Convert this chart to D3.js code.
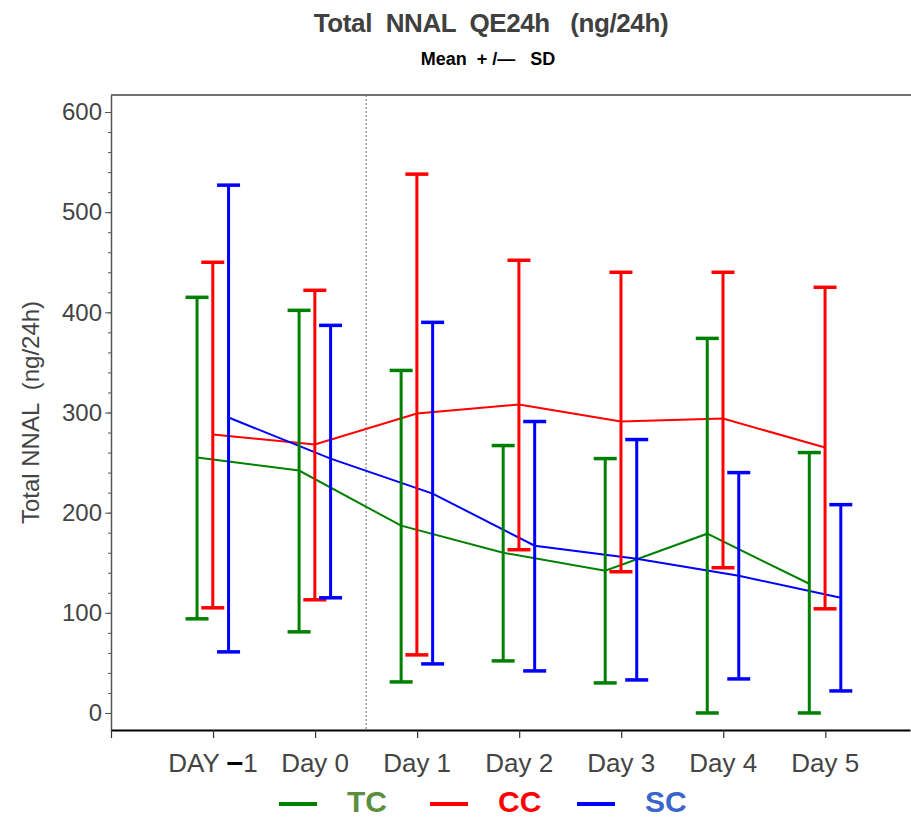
<!DOCTYPE html>
<html>
<head>
<meta charset="utf-8">
<script src="https://cdn.jsdelivr.net/npm/d3@7"></script>
<style>
  html, body { margin: 0; padding: 0; background: #fff; }
  svg { display: block; font-family: "Liberation Sans", Arial, sans-serif; }
  text { white-space: pre; }
</style>
</head>
<body>
<div id="chart"></div>
<script>
// Study days on the x axis
const categories = ["DAY -1", "Day 0", "Day 1", "Day 2", "Day 3", "Day 4", "Day 5"];
const groups = ["TC", "CC", "SC"];

// Mean, mean + SD and mean - SD (clipped at 0) per group, ng/24h
const tcMean  = [255, 242, 187, 160, 142, 179, 129];
const tcUpper = [415, 402, 342, 267, 254, 374, 260];
const tcLower = [94, 81, 31, 52, 30, 0, 0];

const ccMean  = [278, 268, 299, 308, 291, 294, 265];
const ccUpper = [450, 422, 538, 452, 440, 440, 425];
const ccLower = [105, 113, 58, 163, 141, 145, 104];

const scMean  = [295, 254, 219, 167, 154, 137, 115];
const scUpper = [527, 387, 390, 291, 273, 240, 208];
const scLower = [61, 115, 49, 42, 33, 34, 22];

const yTicks = [0, 100, 200, 300, 400, 500, 600];

const seriesColors = { TC: "#008000", CC: "#ff0000", SC: "#0000ff" };
const legendTextColors = { TC: "#5a8f3e", CC: "#ff0000", SC: "#3a66cc" };

const series = [
  { key: "TC", mean: tcMean, upper: tcUpper, lower: tcLower },
  { key: "CC", mean: ccMean, upper: ccUpper, lower: ccLower },
  { key: "SC", mean: scMean, upper: scUpper, lower: scLower }
];

const W = 911, H = 819;
const svg = d3.select("#chart").append("svg")
  .attr("width", W).attr("height", H);

// Scales: day index along x, concentration along y
const x = d3.scaleLinear().domain([-1, 6.83]).range([111, 910]);
const y = d3.scaleLinear().domain([-17, 617]).range([730, 95]);
const groupOffset = d3.scalePoint().domain(groups).range([-16, 15.5]);
const px = (key, i) => x(i) + groupOffset(key);

// Frame: top border line
svg.append("line")
  .attr("x1", x(-1)).attr("x2", W).attr("y1", y(617)).attr("y2", y(617))
  .attr("stroke", "#707070").attr("stroke-width", 2);

// Dotted separator between the baseline days and the study days
svg.append("line")
  .attr("x1", x(1.5)).attr("x2", x(1.5))
  .attr("y1", y(617)).attr("y2", y(-17))
  .attr("stroke", "#666").attr("stroke-width", 1)
  .attr("stroke-dasharray", "2,2");

// Y axis with minor ticks
const yMinor = svg.append("g")
  .attr("transform", `translate(${x(-1)},0)`)
  .call(d3.axisLeft(y).tickValues(d3.range(0, 601, 20)).tickSize(3).tickFormat(""));
yMinor.select(".domain").remove();
yMinor.selectAll("line").attr("stroke", "#555");

const yAxis = svg.append("g")
  .attr("transform", `translate(${x(-1)},0)`)
  .call(d3.axisLeft(y).tickValues(yTicks).tickSize(6).tickPadding(3).tickSizeOuter(0));
yAxis.select(".domain").attr("stroke", "#555").attr("stroke-width", 1.5);
yAxis.selectAll("line").attr("stroke", "#555");
yAxis.selectAll("text")
  .attr("font-size", 24).attr("fill", "#444")
  .attr("font-family", "'Liberation Sans', Arial, sans-serif");

// X axis
const xAxis = svg.append("g")
  .attr("transform", `translate(0,${y(-17)})`)
  .call(d3.axisBottom(x).tickValues(d3.range(-1, 7)).tickSize(8).tickFormat("").tickSizeOuter(0));
xAxis.select(".domain").attr("stroke", "#000").attr("stroke-width", 2);
xAxis.selectAll("line").attr("stroke", "#333").attr("stroke-width", 1.2);

// X labels; the minus sign in "DAY -1" is drawn as a heavy dash
const xl = svg.append("g").selectAll("text")
  .data(categories)
  .join("text")
  .attr("x", (d, i) => x(i))
  .attr("y", 772)
  .attr("text-anchor", "middle")
  .attr("font-size", 26)
  .attr("fill", "#444");
xl.each(function (d) {
  const t = d3.select(this);
  const parts = d.split("-");
  if (parts.length === 2) {
    t.append("tspan").text(parts[0]);
    t.append("tspan").text("\u2013").attr("font-weight", "bold").attr("fill", "#000").attr("font-size", 30);
    t.append("tspan").text(parts[1]);
  } else {
    t.text(d);
  }
});

// Y axis title
svg.append("text")
  .attr("transform", `translate(39,${(y(0) + y(600)) / 2}) rotate(-90)`)
  .attr("text-anchor", "middle")
  .attr("font-size", 24)
  .attr("fill", "#444")
  .text("Total NNAL  (ng/24h)");

// Titles
svg.append("text")
  .attr("x", 491).attr("y", 32)
  .attr("text-anchor", "middle")
  .attr("font-size", 26).attr("font-weight", "bold")
  .attr("fill", "#404040")
  .attr("letter-spacing", -0.4)
  .text("Total  NNAL  QE24h   (ng/24h)");

const sub = svg.append("text")
  .attr("x", 488).attr("y", 65)
  .attr("text-anchor", "middle")
  .attr("font-size", 18).attr("font-weight", "bold")
  .attr("fill", "#000");
sub.append("tspan").text("Mean  + /");
sub.append("tspan").text("\u2014").attr("font-size", 18);
sub.append("tspan").text("   SD");

// Mean lines
const line = d3.line();
svg.append("g").selectAll("path")
  .data(series)
  .join("path")
  .attr("d", s => line(s.mean.map((v, i) => [px(s.key, i), y(v)])))
  .attr("fill", "none")
  .attr("stroke", s => seriesColors[s.key])
  .attr("stroke-width", 2);

// Error bars: vertical stem plus caps
const capHalf = 11.5;
const bars = svg.append("g").selectAll("g")
  .data(series)
  .join("g")
  .attr("stroke", s => seriesColors[s.key]);

bars.each(function (s) {
  const g = d3.select(this);
  const rows = categories.map((c, i) => ({ i, up: s.upper[i], lo: s.lower[i] }));
  g.selectAll("line.stem").data(rows).join("line").attr("class", "stem")
    .attr("x1", d => px(s.key, d.i)).attr("x2", d => px(s.key, d.i))
    .attr("y1", d => y(d.up)).attr("y2", d => y(d.lo))
    .attr("stroke-width", 3);
  g.selectAll("line.capU").data(rows).join("line").attr("class", "capU")
    .attr("x1", d => px(s.key, d.i) - capHalf).attr("x2", d => px(s.key, d.i) + capHalf)
    .attr("y1", d => y(d.up)).attr("y2", d => y(d.up))
    .attr("stroke-width", 3.5);
  g.selectAll("line.capL").data(rows).join("line").attr("class", "capL")
    .attr("x1", d => px(s.key, d.i) - capHalf).attr("x2", d => px(s.key, d.i) + capHalf)
    .attr("y1", d => y(d.lo)).attr("y2", d => y(d.lo))
    .attr("stroke-width", 3.5);
});

// Legend
const legendX = { TC: 279, CC: 430, SC: 577 };
const leg = svg.append("g").selectAll("g")
  .data(groups)
  .join("g")
  .attr("transform", d => `translate(${legendX[d]},0)`);
leg.append("line")
  .attr("x1", 0).attr("x2", 38).attr("y1", 804).attr("y2", 804)
  .attr("stroke", d => seriesColors[d]).attr("stroke-width", 4);
leg.append("text")
  .attr("x", 68).attr("y", 812)
  .attr("font-size", 30).attr("font-weight", "bold")
  .attr("fill", d => legendTextColors[d])
  .text(d => d);
</script>
</body>
</html>
